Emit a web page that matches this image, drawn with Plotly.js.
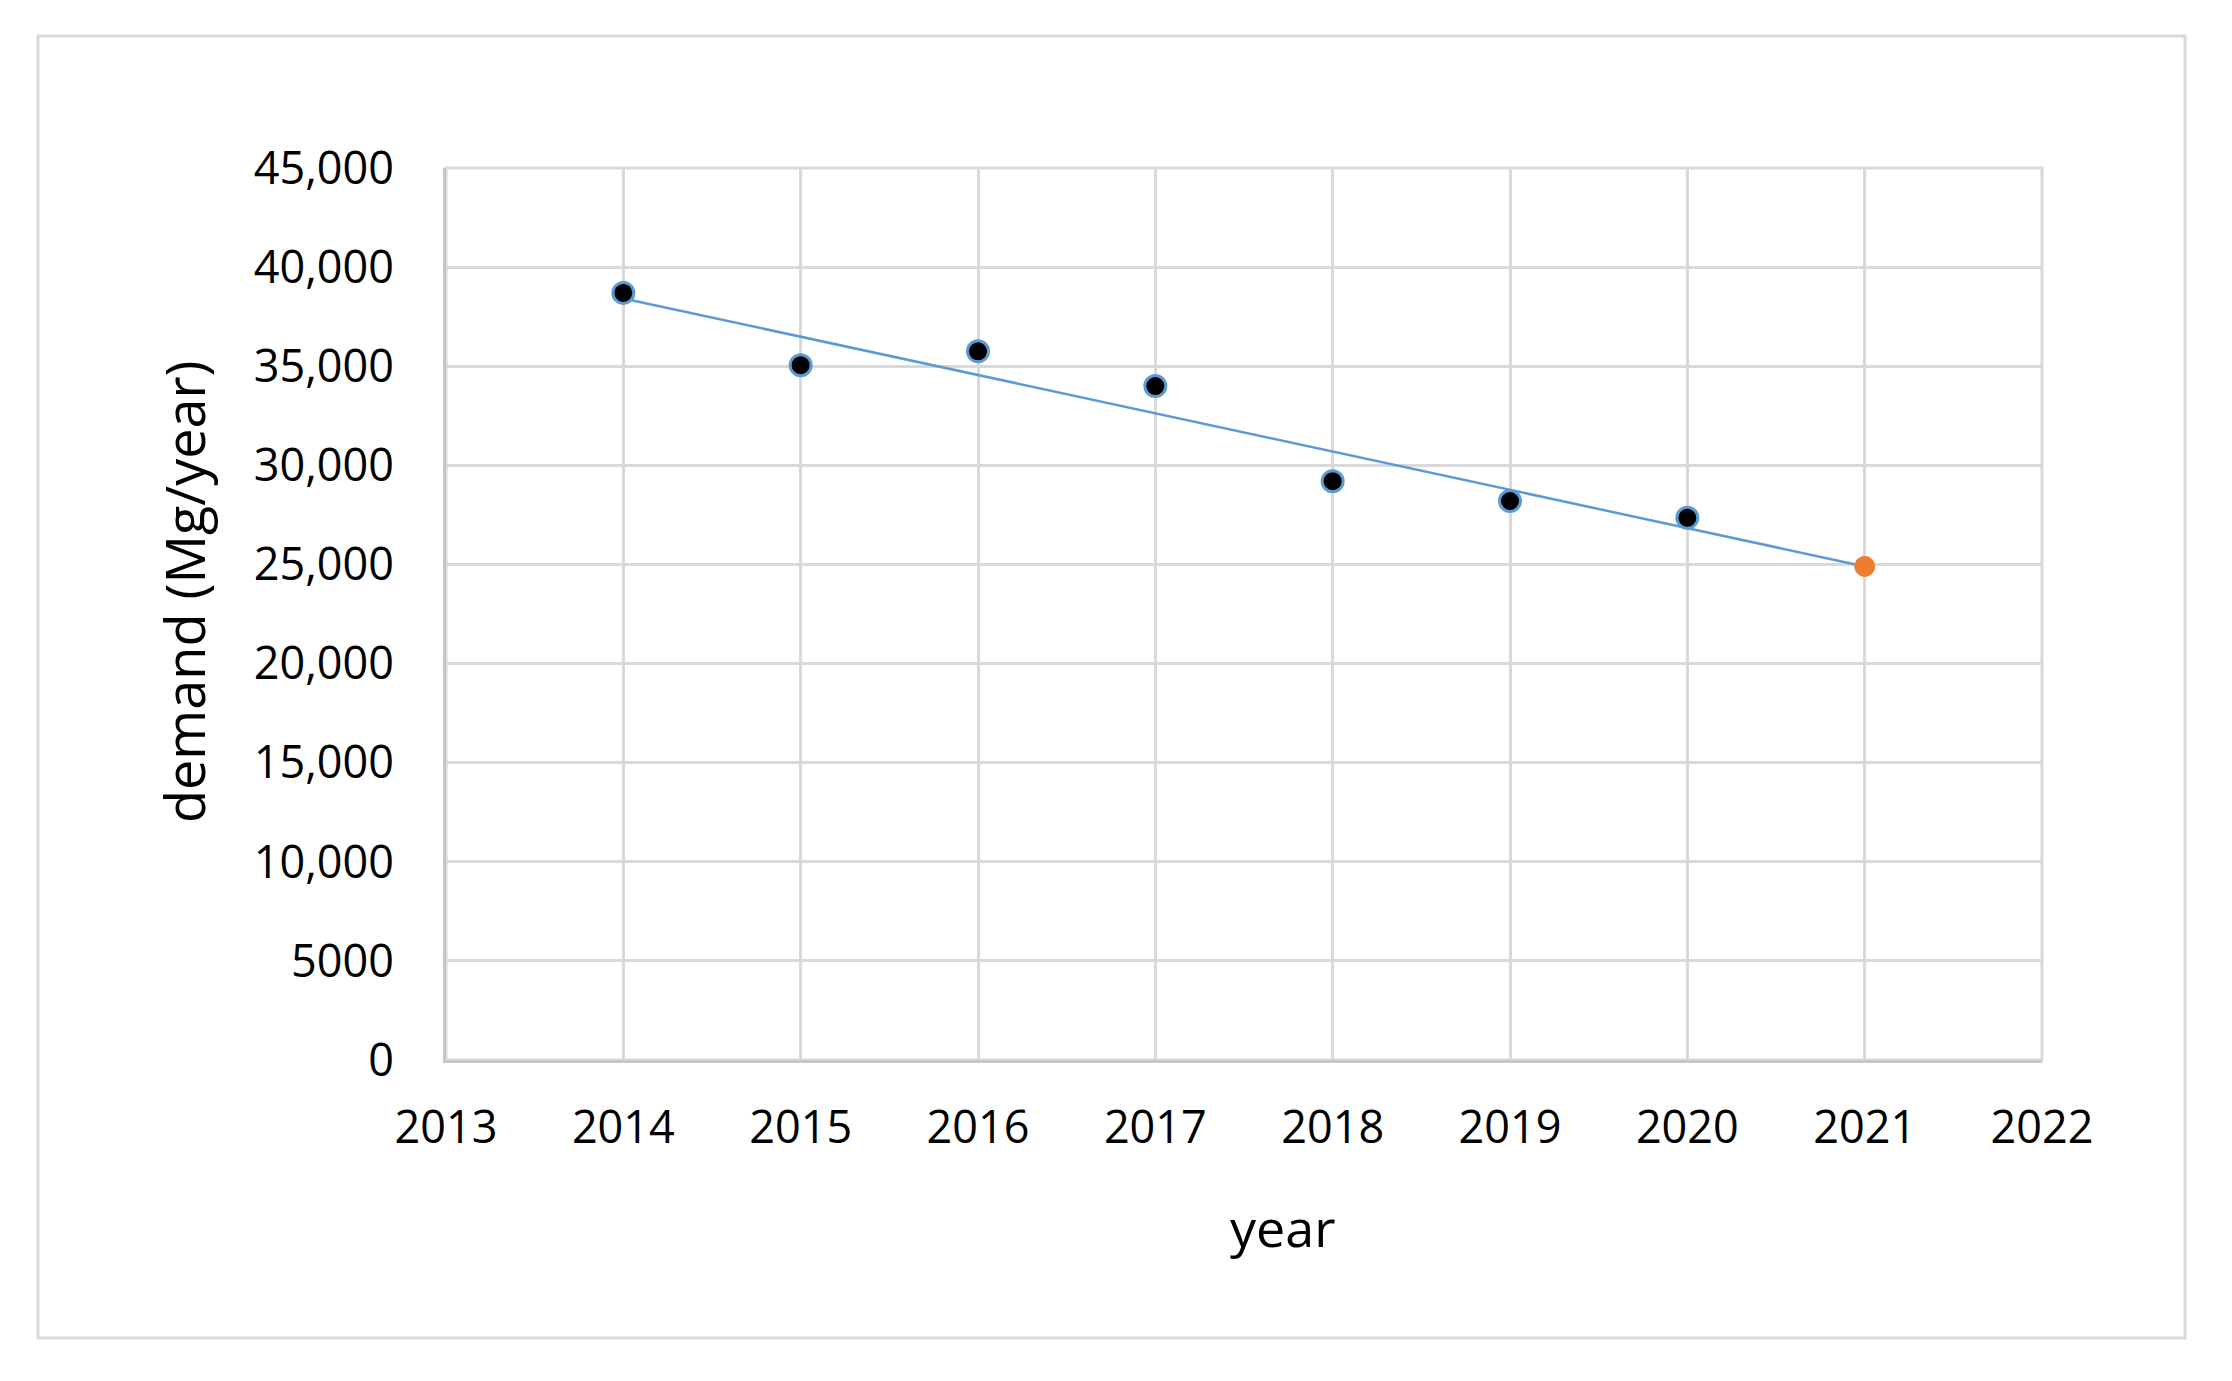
<!DOCTYPE html>
<html>
<head>
<meta charset="utf-8">
<script src="https://cdn.plot.ly/plotly-3.0.1.min.js"></script>
<style>html,body{margin:0;padding:0;background:#fff;}#chart{width:2232px;height:1381px;}</style>
</head>
<body>
<div id="chart"></div>
<script>
// Observed demand (Mg/year)
const years = [2014, 2015, 2016, 2017, 2018, 2019, 2020];
const demand = [38700, 35050, 35750, 34000, 29200, 28200, 27350];
// Linear trend line endpoints
const trendYears = [2014, 2021];
const trendValues = [38420, 24900];
// Forecast point
const forecastYears = [2021];
const forecastValues = [24900];
// Axis ticks
const xTickVals = [2013, 2014, 2015, 2016, 2017, 2018, 2019, 2020, 2021, 2022];
const yTickVals = [0, 5000, 10000, 15000, 20000, 25000, 30000, 35000, 40000, 45000];
const yTickText = ["0", "5000", "10,000", "15,000", "20,000", "25,000", "30,000", "35,000", "40,000", "45,000"];

const traces = [
  {x: trendYears, y: trendValues, mode: 'lines', type: 'scatter',
   line: {color: '#5B9BD5', width: 2.5}, hoverinfo: 'skip', showlegend: false},
  {x: years, y: demand, mode: 'markers', type: 'scatter',
   marker: {color: '#000000', size: 21, line: {color: '#5B9BD5', width: 3}}, showlegend: false},
  {x: forecastYears, y: forecastValues, mode: 'markers', type: 'scatter',
   marker: {color: '#ED7D31', size: 20, line: {color: '#ED7D31', width: 1}}, showlegend: false}
];

const W = 1596, H = 892, L = 446, T = 168;
function px(x) { return (x - L) / W; }
function py(y) { return (T + H - y) / H; }

const layout = {
  width: 2232, height: 1381,
  margin: {l: 446, r: 190, t: 168, b: 321, pad: 0},
  paper_bgcolor: '#ffffff', plot_bgcolor: '#ffffff',
  font: {family: 'Open Sans, sans-serif', color: '#000000', size: 45},
  showlegend: false,
  xaxis: {
    range: [2013, 2022], tickvals: xTickVals, ticktext: xTickVals.map(String),
    showgrid: true, gridcolor: '#d9d9d9', gridwidth: 3,
    showline: true, linecolor: '#c6c6c6', linewidth: 3,
    zeroline: false, ticks: '', ticklabelstandoff: 26,
    tickfont: {size: 45, color: '#000'}
  },
  yaxis: {
    range: [0, 45000], tickvals: yTickVals, ticktext: yTickText,
    showgrid: true, gridcolor: '#d9d9d9', gridwidth: 3,
    showline: true, linecolor: '#c6c6c6', linewidth: 3,
    zeroline: false, ticks: '', ticklabelstandoff: 40,
    tickfont: {size: 45, color: '#000'}
  },
  annotations: [
    {text: 'year', xref: 'paper', yref: 'paper', x: px(1282), y: py(1226),
     xanchor: 'center', yanchor: 'middle', showarrow: false, font: {size: 52, color: '#000'}},
    {text: 'demand (Mg/year)', xref: 'paper', yref: 'paper', x: px(184), y: py(592),
     xanchor: 'center', yanchor: 'middle', textangle: -90, showarrow: false, font: {size: 54, color: '#000'}}
  ],
  shapes: [
    {type: 'rect', xref: 'paper', yref: 'paper', x0: px(38), x1: px(2185), y0: py(1338), y1: py(36),
     line: {color: '#d9d9d9', width: 3}, fillcolor: 'rgba(0,0,0,0)', layer: 'below'},
    {type: 'rect', xref: 'paper', yref: 'paper', x0: 0, x1: 1, y0: 0, y1: 1,
     line: {color: '#d9d9d9', width: 3}, fillcolor: 'rgba(0,0,0,0)', layer: 'below'}
  ]
};

Plotly.newPlot('chart', traces, layout, {displayModeBar: false, staticPlot: true});
</script>
</body>
</html>
